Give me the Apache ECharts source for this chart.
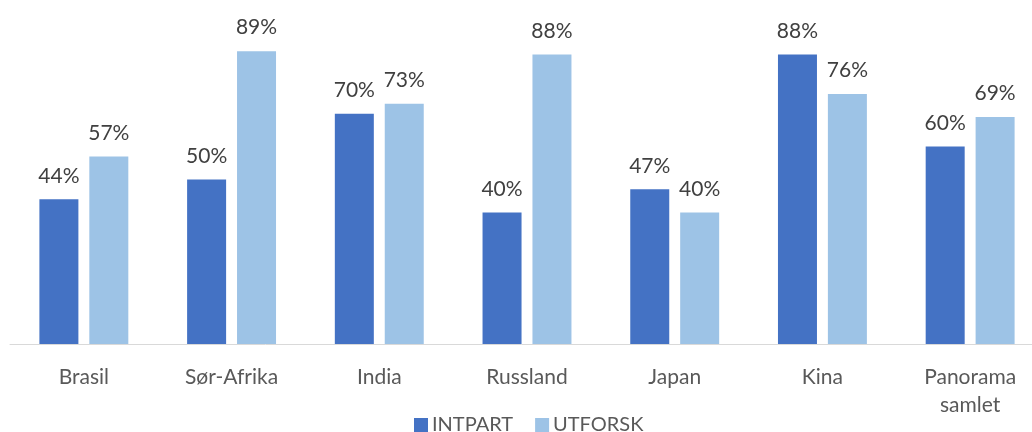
<!DOCTYPE html>
<html><head><meta charset="utf-8">
<script src="https://cdn.jsdelivr.net/npm/echarts@6/dist/echarts.min.js"></script>
<style>html,body{margin:0;padding:0;background:#fff}#c{width:1032px;height:432px}</style>
</head><body><div id="c"></div>
<script>
const categories = ['Brasil', 'Sør-Afrika', 'India', 'Russland', 'Japan', 'Kina', 'Panorama\nsamlet'];
const intpart = [44, 50, 70, 40, 47, 88, 60];
const utforsk = [57, 89, 73, 88, 40, 76, 69];
const seriesNames = ['INTPART', 'UTFORSK'];
const FONT = 'Lato, "Open Sans", sans-serif';
const chart = echarts.init(document.getElementById('c'));
const lbl = {show: true, position: 'top', distance: 13, formatter: '{c}%', color: '#404040', fontSize: 21, fontFamily: FONT};
chart.setOption({
  animation: false,
  grid: {left: 10, top: 15, width: 1034, height: 329, containLabel: false, outerBoundsMode: 'none'},
  legend: {
    data: seriesNames, top: 413, left: 414, padding: 0, itemWidth: 14, itemHeight: 14, itemGap: 22,
    icon: 'rect', textStyle: {color: '#595959', fontSize: 20, lineHeight: 24, fontFamily: FONT, padding: [0, 0, 0, -1]}
  },
  xAxis: {
    type: 'category', data: categories,
    axisLine: {lineStyle: {color: '#d9d9d9', width: 1}},
    axisTick: {show: false},
    axisLabel: {color: '#595959', fontSize: 21, fontFamily: FONT, margin: 19, lineHeight: 28, interval: 0}
  },
  yAxis: {type: 'value', min: 0, max: 100, show: false, splitLine: {show: false}},
  series: [
    {name: seriesNames[0], type: 'bar', data: intpart, barWidth: 39, barGap: '28%', itemStyle: {color: '#4472C4'}, label: lbl},
    {name: seriesNames[1], type: 'bar', data: utforsk, barWidth: 39, barGap: '28%', itemStyle: {color: '#9DC3E6'}, label: lbl}
  ]
});
</script></body></html>
